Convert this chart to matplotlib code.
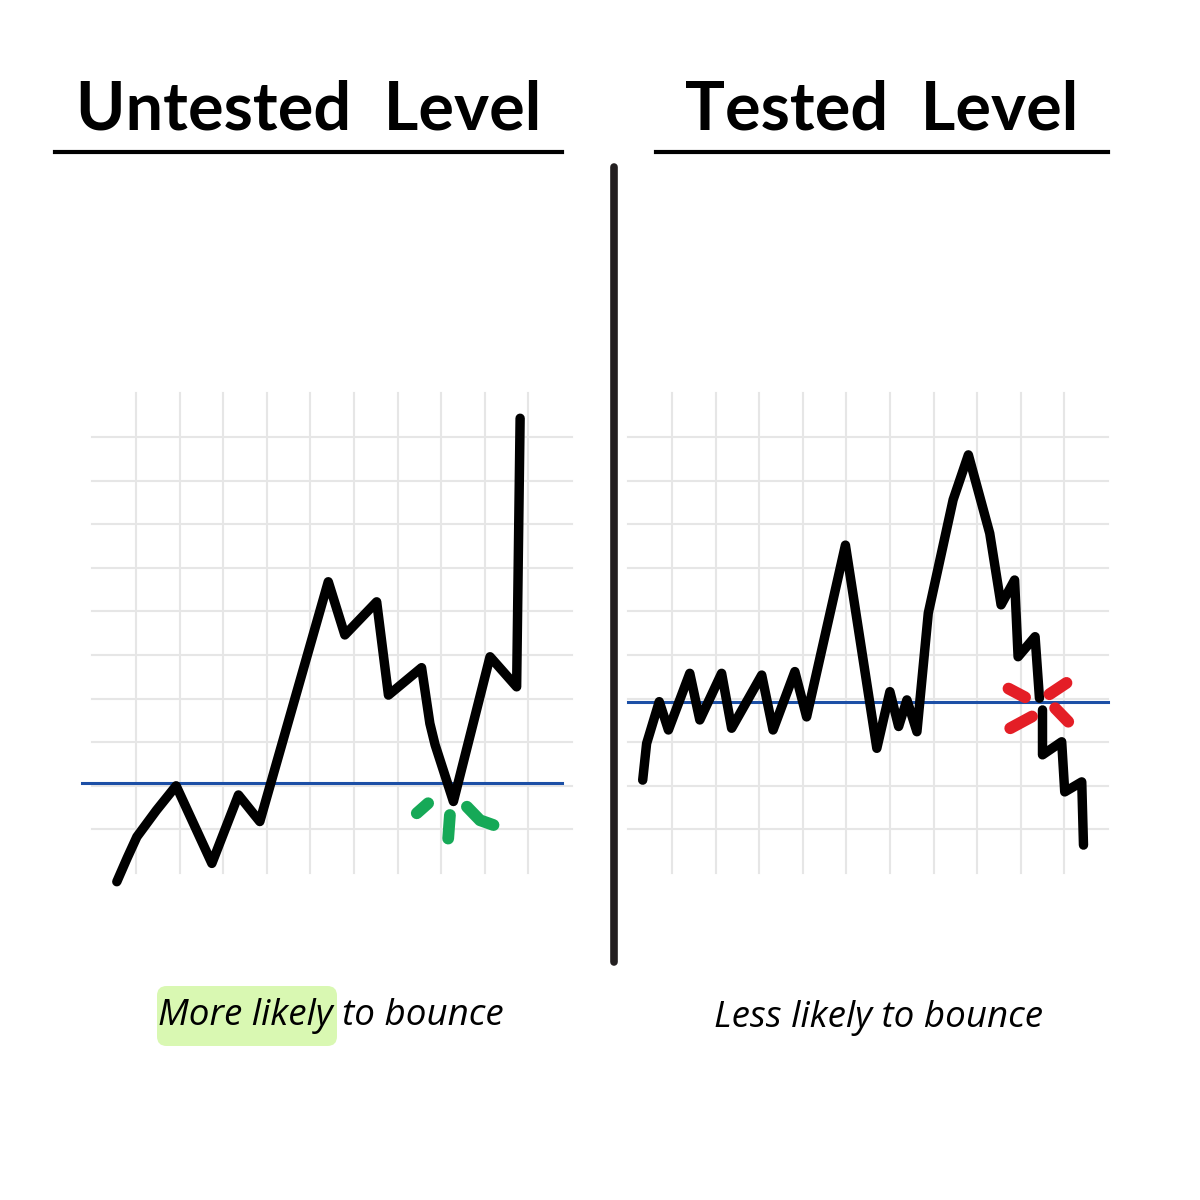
import matplotlib.pyplot as plt
from matplotlib.lines import Line2D
from matplotlib.patches import FancyBboxPatch

# grid units, 1 unit = one grid square
left_x = [0.56, 0.8, 1.02, 1.47, 1.92, 2.74, 3.35, 3.84, 5.41, 5.79, 6.52, 6.79, 7.55, 7.74, 7.86, 8.28, 9.12, 9.73, 9.81]
left_y = [-0.2, 0.35, 0.83, 1.44, 2.0, 0.22, 1.79, 1.18, 6.68, 5.46, 6.22, 4.08, 4.71, 3.43, 2.94, 1.64, 4.96, 4.27, 10.43]
left_level = 2.06

right_x1 = [0.33, 0.42, 0.71, 0.92, 1.41, 1.64, 2.14, 2.37, 3.06, 3.32, 3.82, 4.09, 4.98, 5.7, 6.0, 6.2, 6.39, 6.62,
            6.88, 7.45, 7.8, 8.29, 8.55, 8.86, 8.94, 9.33, 9.43]
right_y1 = [2.13, 2.97, 3.93, 3.28, 4.58, 3.51, 4.58, 3.32, 4.54, 3.28, 4.62, 3.58, 7.52, 2.86, 4.16, 3.36, 3.97, 3.24,
            5.96, 8.56, 9.59, 7.79, 6.15, 6.72, 4.96, 5.42, 4.01]
right_x2 = [9.5, 9.5, 9.94, 10.01, 10.4, 10.44]
right_y2 = [3.74, 2.71, 3.01, 1.86, 2.09, 0.64]
right_level = 3.93

titles = ['Untested Level', 'Tested Level']
captions = ['More likely to bounce', 'Less likely to bounce']

# green "bounce" strokes and red "break" strokes
green_marks = [([7.44, 7.70], [1.37, 1.60]),
               ([8.20, 8.16], [1.33, 0.79]),
               ([8.59, 8.89, 9.20], [1.52, 1.21, 1.10])]
red_marks = [([8.72, 9.10], [4.23, 4.03]),
             ([9.66, 10.05], [4.10, 4.36]),
             ([8.76, 9.26], [3.32, 3.59]),
             ([9.79, 10.09], [3.78, 3.47])]

U = 43.6
W = H = 1200
fig = plt.figure(figsize=(12, 12), dpi=100)
fig.patch.set_facecolor('white')


def panel(x0px):
    # x0px: pixel of grid x=0 ; grid y=0 sits 873 px from top
    ax = fig.add_axes([(x0px - U) / W, (H - 873 - U) / H, 13 * U / W, 13 * U / H])
    ax.set_xlim(-1, 12)
    ax.set_ylim(-1, 12)
    ax.axis('off')
    for i in range(1, 11):
        ax.plot([i, i], [0, 11], color='#e6e6e6', lw=1.5, zorder=1)
        ax.plot([0, 11], [i, i], color='#e6e6e6', lw=1.5, zorder=1)
    return ax


axL = panel(92.4)
axL.plot([-0.24, 10.77], [left_level, left_level], color='#1c4fa6', lw=2.2, zorder=2)
axL.plot(left_x, left_y, color='black', lw=6.8, solid_capstyle='round', solid_joinstyle='round', zorder=3)
for gx, gy in green_marks:
    axL.plot(gx, gy, color='#16a957', lw=8.5, solid_capstyle='round', solid_joinstyle='round', zorder=3)

axR = panel(628.3)
axR.plot([0, 11], [right_level, right_level], color='#1c4fa6', lw=2.2, zorder=2)
axR.plot(right_x1, right_y1, color='black', lw=6.8, solid_capstyle='round', solid_joinstyle='round', zorder=3)
axR.plot(right_x2, right_y2, color='black', lw=6.8, solid_capstyle='round', solid_joinstyle='round', zorder=3)
for rx, ry in red_marks:
    axR.plot(rx, ry, color='#e41e26', lw=8.5, solid_capstyle='round', zorder=4)

# titles + underlines
tfam = ['Lato', 'DejaVu Sans']
fig.text(309 / W, 1 - 111 / H, titles[0].replace(' ', '  '), ha='center', va='center', fontsize=48,
         fontweight='bold', family=tfam)
fig.text(882 / W, 1 - 111 / H, titles[1].replace(' ', '  '), ha='center', va='center', fontsize=48,
         fontweight='bold', family=tfam)
fig.add_artist(Line2D([55 / W, 562 / W], [1 - 152 / H] * 2, color='black', lw=3))
fig.add_artist(Line2D([656 / W, 1108 / W], [1 - 152 / H] * 2, color='black', lw=3))

# divider
fig.add_artist(Line2D([614 / W, 614 / W], [1 - 167 / H, 1 - 962 / H], color='#231f20', lw=5.5,
                      solid_capstyle='round'))

# captions
fig.add_artist(FancyBboxPatch((157 / W, 1 - 1046 / H), 180 / W, 60 / H,
                              boxstyle='round,pad=0,rounding_size=0.008',
                              facecolor='#d9f8b2', edgecolor='none', transform=fig.transFigure))
fig.text(331 / W, 1 - 1016 / H, captions[0], ha='center', va='center', fontsize=26.5,
         style='italic', family=['Open Sans', 'DejaVu Sans'])
fig.text(878 / W, 1 - 1018 / H, captions[1], ha='center', va='center', fontsize=26.5,
         style='italic', family=['Open Sans', 'DejaVu Sans'])

fig.savefig('out.png', dpi=100, facecolor='white')
